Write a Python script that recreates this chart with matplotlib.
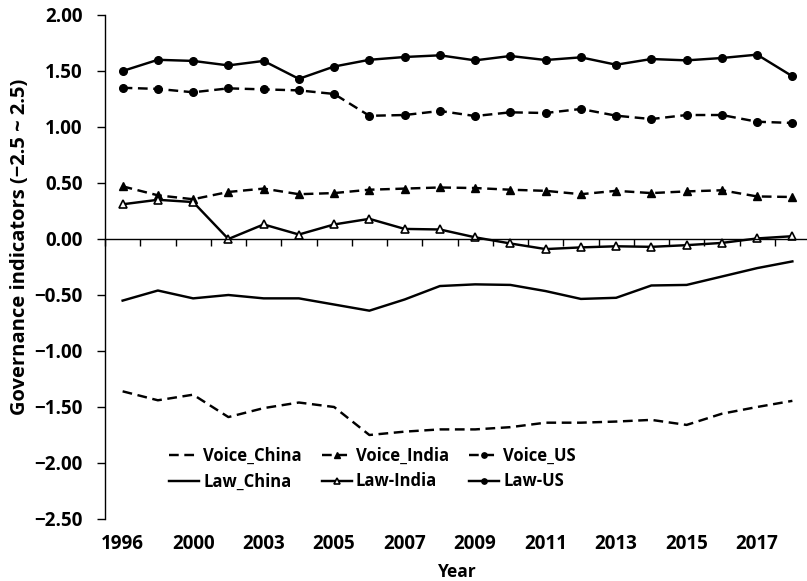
import matplotlib
matplotlib.use('Agg')
import matplotlib.pyplot as plt
import numpy as np

plt.rcParams['font.family'] = ['Open Sans', 'DejaVu Sans']
plt.rcParams['font.weight'] = 'bold'
plt.rcParams['axes.labelweight'] = 'bold'

years = ['1996', '1998', '2000', '2002', '2003', '2004', '2005', '2006', '2007', '2008',
         '2009', '2010', '2011', '2012', '2013', '2014', '2015', '2016', '2017', '2018']

voice_china = [-1.36, -1.44, -1.39, -1.59, -1.51, -1.46, -1.50, -1.75, -1.72, -1.70,
               -1.70, -1.68, -1.64, -1.64, -1.63, -1.615, -1.66, -1.56, -1.50, -1.445]
voice_india = [0.47, 0.39, 0.355, 0.42, 0.45, 0.40, 0.41, 0.44, 0.45, 0.46,
               0.455, 0.44, 0.43, 0.40, 0.43, 0.41, 0.425, 0.435, 0.38, 0.375]
voice_us = [1.35, 1.34, 1.31, 1.345, 1.336, 1.327, 1.295, 1.10, 1.107, 1.143,
            1.098, 1.131, 1.125, 1.161, 1.101, 1.071, 1.107, 1.107, 1.047, 1.036]
law_china = [-0.55, -0.46, -0.53, -0.50, -0.53, -0.53, -0.585, -0.64, -0.54, -0.42,
             -0.405, -0.41, -0.465, -0.535, -0.525, -0.415, -0.41, -0.335, -0.26, -0.20]
law_india = [0.31, 0.35, 0.33, 0.0, 0.13, 0.04, 0.13, 0.18, 0.09, 0.085,
             0.015, -0.04, -0.09, -0.075, -0.065, -0.07, -0.055, -0.035, 0.005, 0.025]
law_us = [1.50, 1.60, 1.59, 1.55, 1.59, 1.43, 1.54, 1.60, 1.625, 1.64,
          1.595, 1.634, 1.598, 1.622, 1.556, 1.607, 1.595, 1.616, 1.646, 1.453]

yticks = [2.0, 1.5, 1.0, 0.5, 0.0, -0.5, -1.0, -1.5, -2.0, -2.5]

tick_fs = 13.5
fig = plt.figure(figsize=(8.07, 5.81), dpi=100)
ax = fig.add_axes([105 / 807, 1 - 519 / 581, 705 / 807, 504 / 581])

x = np.arange(len(years))
lw = 1.75
dash = (4, 2.3)
h_vc, = ax.plot(x, voice_china, color='black', lw=lw, dashes=dash, label='Voice_China')
h_vi, = ax.plot(x, voice_india, color='black', lw=lw, dashes=dash, marker='^',
                markersize=6, label='Voice_India')
h_vu, = ax.plot(x, voice_us, color='black', lw=lw, dashes=dash, marker='o',
                markersize=5.5, label='Voice_US')
h_lc, = ax.plot(x, law_china, color='black', lw=lw, label='Law_China')
h_li, = ax.plot(x, law_india, color='black', lw=lw, marker='^', markersize=6,
                markerfacecolor='white', markeredgewidth=1.2, label='Law-India')
h_lu, = ax.plot(x, law_us, color='black', lw=lw, marker='o', markersize=5.5, label='Law-US')

ax.set_xlim(-0.5, len(years) - 0.5)
ax.set_ylim(-2.5, 2.0)
ax.set_yticks(yticks)
ax.set_yticklabels([f'{v:.2f}'.replace('-', '\u2212') for v in yticks], fontweight='bold')
ax.tick_params(axis='y', length=6, width=1, labelsize=tick_fs, pad=10)

for side in ['top', 'right']:
    ax.spines[side].set_visible(False)
ax.spines['left'].set_linewidth(1)
ax.spines['bottom'].set_position(('data', 0))
ax.spines['bottom'].set_linewidth(1)

# category boundary ticks on the zero line, no labels there
ax.set_xticks(np.arange(0, len(years)) - 0.5)
ax.tick_params(axis='x', length=5, width=1, labelbottom=False, direction='out')

# year labels sit at the bottom of the plot, every other category
sec = ax.secondary_xaxis(0)
sec.spines['bottom'].set_visible(False)
sec.set_xticks(x[::2])
sec.set_xticklabels([years[i] for i in x[::2]], fontweight='bold')
sec.tick_params(length=0, labelsize=tick_fs, pad=11)
sec.set_xlabel('Year', fontsize=12.5, fontweight='bold', labelpad=6)

ax.set_ylabel('Governance indicators (\u22122.5 ~ 2.5)', fontsize=14.5, fontweight='bold')
ax.yaxis.set_label_coords(-0.106, 0.54)

leg = ax.legend([h_vc, h_lc, h_vi, h_li, h_vu, h_lu],
                ['Voice_China', 'Law_China', 'Voice_India', 'Law-India', 'Voice_US', 'Law-US'],
                ncol=3, frameon=False, loc='upper left',
                prop={'size': 12, 'weight': 'bold'},
                bbox_to_anchor=(169 / 807, 1 - 447 / 581), bbox_transform=fig.transFigure,
                borderpad=0, borderaxespad=0, handlelength=1.8, handletextpad=0.25,
                columnspacing=1.2, labelspacing=0.45, markerscale=0.7)

fig.savefig('out.png', dpi=100)
